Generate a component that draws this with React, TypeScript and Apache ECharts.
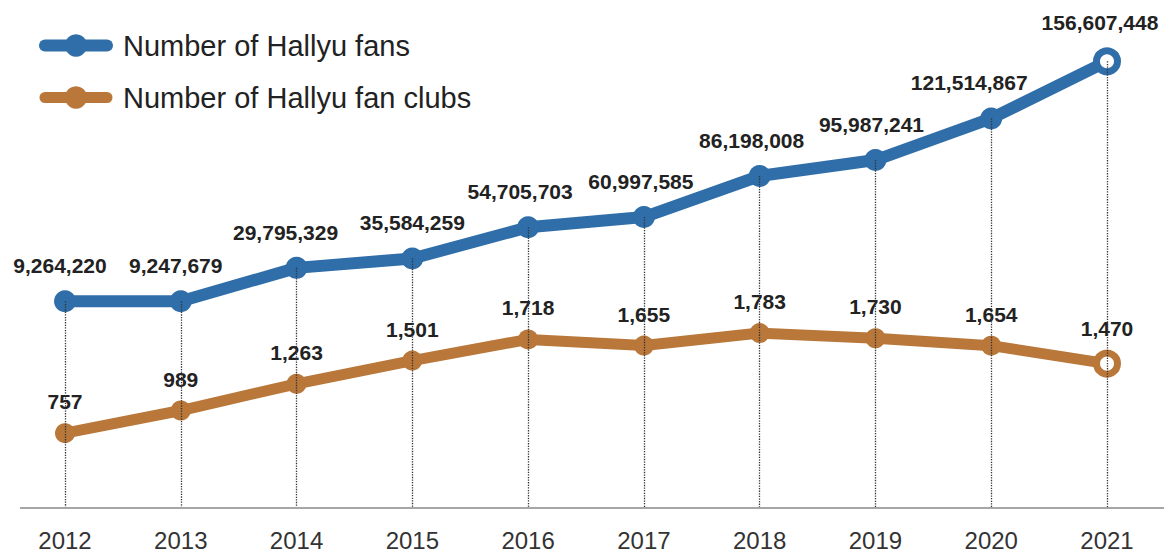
import React, { useEffect, useRef } from "react";
import * as echarts from "echarts";

const years = ["2012", "2013", "2014", "2015", "2016", "2017", "2018", "2019", "2020", "2021"];
const fans = [9264220, 9247679, 29795329, 35584259, 54705703, 60997585, 86198008, 95987241, 121514867, 156607448];
const clubs = [757, 989, 1263, 1501, 1718, 1655, 1783, 1730, 1654, 1470];
const seriesNames = ["Number of Hallyu fans", "Number of Hallyu fan clubs"];

const BLUE = "#2f6ea8";
const ORANGE = "#b9773a";
const FONT = "'Liberation Sans', Arial, Helvetica, sans-serif";
const fansAxisRange = { min: -117.0e6, max: 169.67e6 };
const clubsAxisRange = { min: 0, max: 4787 };
const fansLabelShift = [-5, -5, -11, 0, -8, -3, -8, -4, -22, -7];

const fmt = (v: number) => v.toLocaleString("en-US");

export default function App() {
  const ref = useRef<HTMLDivElement>(null);
  useEffect(() => {
    if (!ref.current) return;
    const chart = echarts.init(ref.current, undefined, { renderer: "svg" });
    const last = years.length - 1;
    const labelBase = {
      show: true,
      position: "top" as const,
      fontSize: 21,
      fontWeight: "bold" as const,
      color: "#222",
      fontFamily: FONT,
      formatter: (p: any) => fmt(p.value),
    };
    chart.setOption({
      animation: false,
      backgroundColor: "#ffffff",
      grid: { left: 65, right: 64, top: 40, bottom: 49 },
      legend: {
        orient: "vertical",
        left: 39,
        top: 31,
        padding: 0,
        itemWidth: 62,
        itemHeight: 28,
        itemGap: 23,
        selectedMode: false,
        textStyle: { fontSize: 29, color: "#222", fontFamily: FONT, padding: [0, 0, 0, 11] },
        lineStyle: { cap: "round" },
        data: [
          { name: seriesNames[0], lineStyle: { width: 12, cap: "round" } },
          { name: seriesNames[1], lineStyle: { width: 11, cap: "round" } },
        ],
      },
      xAxis: {
        type: "category",
        data: years,
        boundaryGap: false,
        axisLine: { show: false },
        axisTick: { show: false },
        splitLine: { show: false },
        axisLabel: { fontSize: 24, color: "#333", fontFamily: FONT, margin: 21 },
      },
      yAxis: [
        { type: "value", show: false, min: fansAxisRange.min, max: fansAxisRange.max, splitLine: { show: false } },
        { type: "value", show: false, min: clubsAxisRange.min, max: clubsAxisRange.max, splitLine: { show: false } },
      ],
      graphic: [
        {
          type: "line",
          shape: { x1: 20, y1: 508, x2: 1164, y2: 508 },
          style: { stroke: "#888", lineWidth: 1.5 },
          silent: true,
        },
      ],
      series: [
        {
          name: seriesNames[0],
          type: "line",
          yAxisIndex: 0,
          z: 3,
          symbol: "circle",
          symbolSize: 22,
          lineStyle: { color: BLUE, width: 12 },
          itemStyle: { color: BLUE },
          label: { ...labelBase, distance: 14 },
          data: fans.map((v, i) =>
            i === last
              ? {
                  value: v,
                  symbolSize: 21,
                  itemStyle: { color: "#fff", borderColor: BLUE, borderWidth: 7 },
                  label: { offset: [fansLabelShift[i], 0] },
                }
              : { value: v, label: { offset: [fansLabelShift[i], 0] } }
          ),
          markLine: {
            silent: true,
            animation: false,
            symbol: ["none", "none"],
            label: { show: false },
            lineStyle: { type: "dotted", color: "#333", width: 1.3 },
            data: fans.map((v, i) => [
              { coord: [years[i], v] },
              { coord: [years[i], fansAxisRange.min] },
            ]),
          },
        },
        {
          name: seriesNames[1],
          type: "line",
          yAxisIndex: 1,
          z: 4,
          symbol: "circle",
          symbolSize: 20,
          lineStyle: { color: ORANGE, width: 11 },
          itemStyle: { color: ORANGE },
          label: { ...labelBase, distance: 11 },
          data: clubs.map((v, i) =>
            i === last
              ? {
                  value: v,
                  symbolSize: 21,
                  itemStyle: { color: "#fff", borderColor: ORANGE, borderWidth: 7 },
                }
              : v
          ),
        },
      ],
    });
    return () => chart.dispose();
  }, []);
  return (
    <div
      ref={ref}
      style={{ position: "absolute", left: 0, top: 0, width: 1171, height: 556, background: "#fff" }}
    />
  );
}
